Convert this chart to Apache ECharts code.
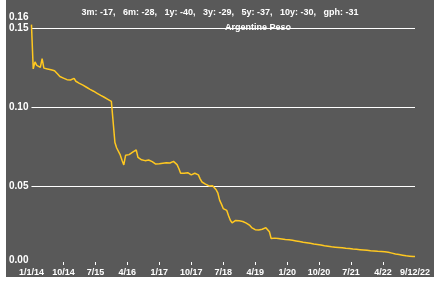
<!DOCTYPE html>
<html>
<head>
<meta charset="utf-8">
<script src="https://cdn.jsdelivr.net/npm/echarts@6/dist/echarts.min.js"></script>
<style>
  html, body { margin: 0; padding: 0; background: #ffffff; }
  #chart { position: absolute; left: 6px; top: 0px; width: 428px; height: 277px; }
</style>
</head>
<body>
<div id="chart"></div>
<script>
const periods = ['3m', '6m', '1y', '3y', '5y', '10y', 'gph'];
const changes = [-17, -28, -40, -29, -37, -30, -31];
const seriesName = 'Argentine Peso';
const tickLabels = ['1/1/14', '10/14', '7/15', '4/16', '1/17', '10/17', '7/18', '4/19', '1/20', '10/20', '7/21', '4/22', '9/12/22'];
const tickStep = 18;

const dates = (
  '1/1/14 1/16/14 2/1/14 2/16/14 3/1/14 3/16/14 4/1/14 4/16/14 5/1/14 5/16/14 6/1/14 6/16/14 7/1/14 7/16/14 8/1/14 8/16/14 9/1/14 9/16/14 10/1/14 10/16/14 11/1/14 11/16/14 12/1/14 12/16/14 ' +
  '1/1/15 1/16/15 2/1/15 2/16/15 3/1/15 3/16/15 4/1/15 4/16/15 5/1/15 5/16/15 6/1/15 6/16/15 7/1/15 7/16/15 8/1/15 8/16/15 9/1/15 9/16/15 10/1/15 10/16/15 11/1/15 11/16/15 12/1/15 12/16/15 ' +
  '1/1/16 1/16/16 2/1/16 2/16/16 3/1/16 3/16/16 4/1/16 4/16/16 5/1/16 5/16/16 6/1/16 6/16/16 7/1/16 7/16/16 8/1/16 8/16/16 9/1/16 9/16/16 10/1/16 10/16/16 11/1/16 11/16/16 12/1/16 12/16/16 ' +
  '1/1/17 1/16/17 2/1/17 2/16/17 3/1/17 3/16/17 4/1/17 4/16/17 5/1/17 5/16/17 6/1/17 6/16/17 7/1/17 7/16/17 8/1/17 8/16/17 9/1/17 9/16/17 10/1/17 10/16/17 11/1/17 11/16/17 12/1/17 12/16/17 ' +
  '1/1/18 1/16/18 2/1/18 2/16/18 3/1/18 3/16/18 4/1/18 4/16/18 5/1/18 5/16/18 6/1/18 6/16/18 7/1/18 7/16/18 8/1/18 8/16/18 9/1/18 9/16/18 10/1/18 10/16/18 11/1/18 11/16/18 12/1/18 12/16/18 ' +
  '1/1/19 1/16/19 2/1/19 2/16/19 3/1/19 3/16/19 4/1/19 4/16/19 5/1/19 5/16/19 6/1/19 6/16/19 7/1/19 7/16/19 8/1/19 8/16/19 9/1/19 9/16/19 10/1/19 10/16/19 11/1/19 11/16/19 12/1/19 12/16/19 ' +
  '1/1/20 1/16/20 2/1/20 2/16/20 3/1/20 3/16/20 4/1/20 4/16/20 5/1/20 5/16/20 6/1/20 6/16/20 7/1/20 7/16/20 8/1/20 8/16/20 9/1/20 9/16/20 10/1/20 10/16/20 11/1/20 11/16/20 12/1/20 12/16/20 ' +
  '1/1/21 1/16/21 2/1/21 2/16/21 3/1/21 3/16/21 4/1/21 4/16/21 5/1/21 5/16/21 6/1/21 6/16/21 7/1/21 7/16/21 8/1/21 8/16/21 9/1/21 9/16/21 10/1/21 10/16/21 11/1/21 11/16/21 12/1/21 12/16/21 ' +
  '1/1/22 1/16/22 2/1/22 2/16/22 3/1/22 3/16/22 4/1/22 4/10/22 4/19/22 4/28/22 5/7/22 5/16/22 5/25/22 6/3/22 6/12/22 6/21/22 6/30/22 7/9/22 7/18/22 7/27/22 8/5/22 8/14/22 8/23/22 9/1/22 9/12/22'
).split(' ');

const rates = [
  0.1520, 0.1240, 0.1285, 0.1262, 0.1255, 0.1250, 0.1305, 0.1245, 0.1243, 0.1240, 0.1237, 0.1235, 0.1232, 0.1229, 0.1222, 0.1205, 0.1192, 0.1186,
  0.1182, 0.1176, 0.1172, 0.1170, 0.1170, 0.1169, 0.1180, 0.1162, 0.1156, 0.1149, 0.1143, 0.1137, 0.1130, 0.1124, 0.1118, 0.1111, 0.1105, 0.1099,
  0.1093, 0.1086, 0.1080, 0.1073, 0.1067, 0.1061, 0.1054, 0.1048, 0.1042, 0.1035, 0.1028, 0.0775, 0.0740, 0.0750, 0.0696, 0.0662, 0.0633, 0.0694,
  0.0686, 0.0698, 0.0707, 0.0714, 0.0720, 0.0728, 0.0680, 0.0668, 0.0665, 0.0662, 0.0660, 0.0666, 0.0664, 0.0658, 0.0654, 0.0645, 0.0638, 0.0634,
  0.0640, 0.0648, 0.0643, 0.0640, 0.0646, 0.0648, 0.0645, 0.0645, 0.0655, 0.0660, 0.0635, 0.0610, 0.0580, 0.0575, 0.0580, 0.0582, 0.0584, 0.0578,
  0.0570, 0.0576, 0.0580, 0.0578, 0.0570, 0.0545, 0.0525, 0.0520, 0.0512, 0.0503, 0.0500, 0.0500, 0.0501, 0.0499, 0.0476, 0.0454, 0.0409, 0.0385,
  0.0357, 0.0350, 0.0345, 0.0312, 0.0283, 0.0266, 0.0275, 0.0282, 0.0285, 0.0280, 0.0274, 0.0275, 0.0273, 0.0265, 0.0258, 0.0250, 0.0237, 0.0230,
  0.0223, 0.0222, 0.0222, 0.0224, 0.0226, 0.0232, 0.0236, 0.0228, 0.0210, 0.0167, 0.0176, 0.0170, 0.0168, 0.0167, 0.0165, 0.0164, 0.0163, 0.0161,
  0.0160, 0.0159, 0.0158, 0.0156, 0.0154, 0.0152, 0.0150, 0.0148, 0.0146, 0.0144, 0.0142, 0.0141, 0.0139, 0.0137, 0.0135, 0.0133, 0.0131, 0.0130,
  0.0128, 0.0126, 0.0124, 0.0122, 0.0120, 0.0119, 0.0117, 0.0115, 0.0114, 0.0113, 0.0112, 0.0111, 0.0110, 0.0109, 0.0107, 0.0106, 0.0105, 0.0104,
  0.0103, 0.0101, 0.0100, 0.0099, 0.0098, 0.0097, 0.0096, 0.0095, 0.0094, 0.0093, 0.0091, 0.0090, 0.0090, 0.0089, 0.0088, 0.0087, 0.0087, 0.0086,
  0.0085, 0.0084, 0.0082, 0.0080, 0.0078, 0.0075, 0.0072, 0.0070, 0.0068, 0.0066, 0.0064, 0.0062, 0.0060, 0.0058, 0.0057, 0.0056, 0.0055, 0.0054,
  0.0053
];

const statsText = periods.map((p, i) => p + ': ' + changes[i] + ',').join('   ').replace(/,$/, '');

const chart = echarts.init(document.getElementById('chart'), null, { renderer: 'canvas' });
chart.setOption({
  animation: false,
  backgroundColor: '#595959',
  title: [
    {
      text: statsText,
      left: 'center',
      top: 3,
      textStyle: { color: '#ffffff', fontSize: 9, fontWeight: 'bold', fontFamily: 'Liberation Sans, Arial, sans-serif' }
    },
    {
      text: seriesName,
      left: 247,
      textAlign: 'center',
      top: 18,
      textStyle: { color: '#ffffff', fontSize: 9, fontWeight: 'bold', fontFamily: 'Liberation Sans, Arial, sans-serif' }
    }
  ],
  grid: { left: 23, right: 19, top: 12, bottom: 12, containLabel: false },
  xAxis: {
    type: 'category',
    data: dates,
    boundaryGap: false,
    axisLine: { show: false },
    axisTick: {
      show: true,
      inside: true,
      length: 3,
      interval: (i) => i % tickStep === 0 && i !== 0 && i !== dates.length - 1,
      lineStyle: { color: '#ffffff', width: 1 }
    },
    axisLabel: {
      interval: (i) => i % tickStep === 0,
      formatter: (v, i) => tickLabels[Math.round(i / tickStep)],
      color: '#ffffff',
      fontSize: 9,
      fontWeight: 'bold',
      fontFamily: 'Liberation Sans Narrow, Liberation Sans, Arial, sans-serif',
      margin: 3
    },
    splitLine: { show: false }
  },
  yAxis: {
    type: 'value',
    min: 0,
    max: 0.16,
    interval: 0.05,
    axisLine: { show: false },
    axisTick: { show: false },
    splitLine: { show: true, showMinLine: false, showMaxLine: false, lineStyle: { color: '#ffffff', width: 1 } },
    axisLabel: {
      color: '#ffffff',
      fontSize: 10,
      fontWeight: 'bold',
      fontFamily: 'Liberation Sans, Arial, sans-serif',
      margin: 3,
      formatter: (v) => v.toFixed(2),
      verticalAlignMinLabel: 'bottom',
      verticalAlignMaxLabel: 'top'
    }
  },
  series: [{
    name: seriesName,
    type: 'line',
    data: rates,
    showSymbol: false,
    symbol: 'none',
    lineStyle: { color: '#FFC820', width: 1.5 },
    z: 3
  }]
});
</script>
</body>
</html>
